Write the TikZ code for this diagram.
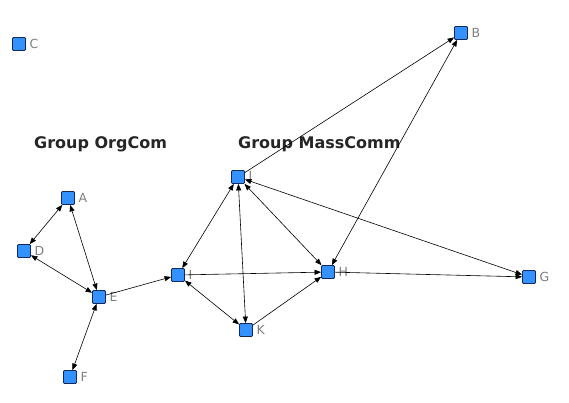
\documentclass[tikz,border=0pt]{standalone}
\usepackage{fontspec}
\setmainfont{DejaVu Sans}
\usetikzlibrary{arrows.meta}
\definecolor{nodeblue}{RGB}{51,146,255}
\definecolor{nodeedge}{RGB}{20,40,90}
\definecolor{lblgray}{RGB}{128,128,128}
\begin{document}
\begin{tikzpicture}[x=1pt,y=-1pt,
  vtx/.style={draw=nodeedge, fill=nodeblue, minimum size=13pt, inner sep=0pt, rounded corners=1pt, line width=0.8pt},
  lbl/.style={text=lblgray, font=\fontsize{12.5}{12.5}\selectfont, inner sep=0pt, anchor=west},
  grp/.style={text=black!85, font=\fontsize{16}{16}\selectfont\bfseries, inner sep=0pt, anchor=west},
  tip/.tip={Triangle[length=6.5pt,width=5pt]},
  one/.style={line width=0.6pt, -tip},
  two/.style={line width=0.6pt, tip-tip},
]
\useasboundingbox (0,0) rectangle (569,402);
\fill[white] (0,0) rectangle (569,402);

\node[vtx] (C) at (19,44) {};
\node[vtx] (A) at (68,198) {};
\node[vtx] (D) at (24,251) {};
\node[vtx] (E) at (99,297) {};
\node[vtx] (F) at (70,377) {};
\node[vtx] (I) at (178,275) {};
\node[vtx] (J) at (238,177) {};
\node[vtx] (K) at (246,330) {};
\node[vtx] (H) at (328,272) {};
\node[vtx] (G) at (529,277) {};
\node[vtx] (B) at (461,33) {};

\foreach \n in {A,B,C,D,E,F,G,H,I,J,K}
  \node[lbl] (\n l) at ([xshift=3.5pt,yshift=0pt]\n.east) {\n};

\node[grp] (g1) at (34,144) {Group OrgCom};
\node[grp] (g2) at (238,144) {Group MassComm};

\draw[two] (D) -- (A);
\draw[two] (A) -- (E);
\draw[two] (D) -- (E);
\draw[two] (F) -- (E);
\draw[one] (E) -- (I);
\draw[two] (I) -- (J);
\draw[one] (I) -- (H);
\draw[two] (I) -- (K);
\draw[two] (J) -- (K);
\draw[two] (J) -- (H);
\draw[one] (K) -- (H);
\draw[one] (J) -- (B);
\draw[two] (H) -- (B);
\draw[two] (J) -- (G);
\draw[one] (H) -- (G);
\end{tikzpicture}
\end{document}
